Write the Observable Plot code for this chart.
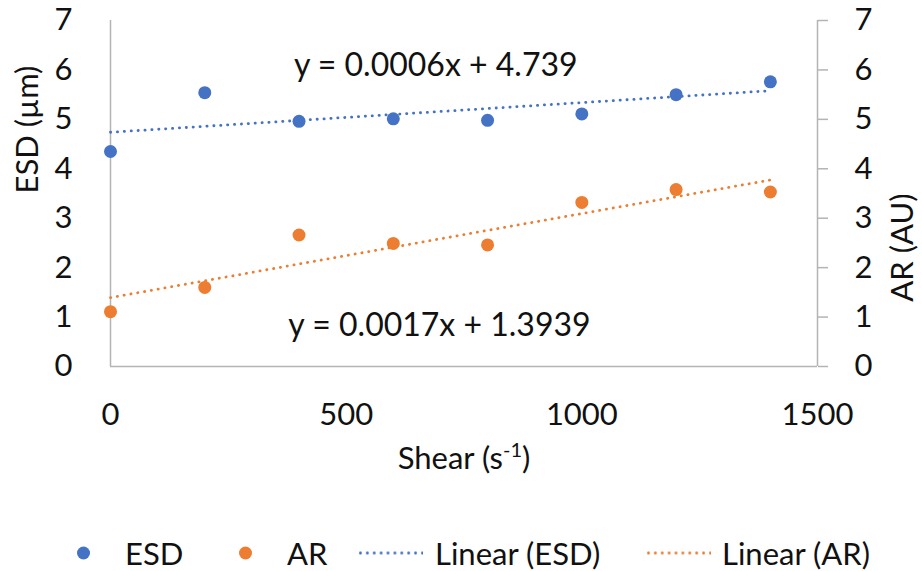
<!DOCTYPE html>
<html><head><meta charset="utf-8">
<script src="https://cdn.jsdelivr.net/npm/d3@7"></script>
<script src="https://cdn.jsdelivr.net/npm/@observablehq/plot@0.6"></script>
<style>
body{margin:0;background:#fff;font-family:Lato,sans-serif;}
#wrap{position:relative;width:922px;height:571px;overflow:hidden;background:#fff}
#chart svg{display:block}
.leg{position:absolute;top:553px;transform:translateY(-50%);font-size:31px;color:#111;line-height:1;white-space:nowrap}
.dot{width:13px;height:13px;border-radius:50%}
.dash{width:66px;height:3px}
</style></head><body><div id="wrap"><div id="chart"></div><div id="legend"></div></div>
<script>
const shear = [0, 200, 400, 600, 800, 1000, 1200, 1400];
const esd = [4.35, 5.54, 4.96, 5.01, 4.98, 5.11, 5.50, 5.76];
const ar = [1.11, 1.60, 2.66, 2.49, 2.46, 3.32, 3.58, 3.53];
const seriesNames = ["ESD", "AR"];
const trendNames = ["Linear (ESD)", "Linear (AR)"];
const trendSlopes = [0.0006, 0.0017];
const trendIntercepts = [4.739, 1.3939];
const equationLabels = ["y = 0.0006x + 4.739", "y = 0.0017x + 1.3939"];
const equationX = [690, 698];
const equationY = [6.09, 0.83];
const xTicks = [0, 500, 1000, 1500];
const yTicks = [0, 1, 2, 3, 4, 5, 6, 7];
const colors = ["#4472C4", "#ED7D31"];
const axisGray = "#b4b4b4";

const values = [esd, ar];
const points = [];
seriesNames.forEach((s, i) => shear.forEach((x, j) => points.push({series: s, x, y: values[i][j]})));
const ext = d3.extent(shear);
const trend = [];
seriesNames.forEach((s, i) => ext.forEach(x => trend.push({series: s, x, y: trendSlopes[i] * x + trendIntercepts[i]})));
const eqs = equationLabels.map((t, i) => ({text: t, x: equationX[i], y: equationY[i]}));

const plot = Plot.plot({
  width: 922, height: 525,
  marginLeft: 110, marginRight: 105, marginTop: 20, marginBottom: 159,
  style: {fontFamily: "Lato, sans-serif", fontSize: "31px", color: "#111", background: "#fff"},
  x: {domain: [0, 1500]},
  y: {domain: [0, 7]},
  color: {domain: seriesNames, range: colors},
  marks: [
    Plot.ruleY([0], {stroke: axisGray, strokeWidth: 1.5}),
    Plot.ruleX([0], {stroke: axisGray, strokeWidth: 1.5}),
    Plot.ruleX([1500], {stroke: axisGray, strokeWidth: 1.5}),
    Plot.axisX({ticks: xTicks, tickSize: 0, tickPadding: 36, label: null, tickFormat: d => String(d)}),
    Plot.axisY({anchor: "left", ticks: yTicks, tickSize: 0, tickPadding: 38, label: null, tickFormat: d => String(d)}),
    Plot.axisY({anchor: "right", ticks: yTicks, tickSize: 10, tickPadding: 27, label: null, stroke: axisGray, fill: "#111", strokeWidth: 1.5, tickFormat: d => String(d)}),
    Plot.line(trend, {x: "x", y: "y", z: "series", stroke: "series", strokeWidth: 2.8, strokeLinecap: "round", strokeDasharray: "0.2 6.7"}),
    Plot.dot(points, {x: "x", y: "y", fill: "series", r: 6.5}),
    Plot.text(eqs, {x: "x", y: "y", text: "text", fill: "#111", fontSize: 32}),
    Plot.text(["ESD (µm)"], {frameAnchor: "left", rotate: -90, dx: -82, fill: "#111"}),
    Plot.text(["AR (AU)"], {frameAnchor: "right", rotate: -90, dx: 86, fill: "#111"}),
    Plot.text(["Shear (s-1)"], {frameAnchor: "bottom", dy: 102, fill: "#111"})
  ]
});
document.getElementById("chart").appendChild(plot);
plot.querySelectorAll("text").forEach(t => {
  if (t.textContent === "Shear (s-1)") {
    t.innerHTML = 'Shear (s<tspan font-size="20" dy="-12">-1</tspan><tspan dy="12">)</tspan>';
  }
});

// legend
const leg = document.getElementById("legend");
const legendItems = [
  {type: "dot", color: colors[0], left: 77},
  {type: "text", text: seriesNames[0], left: 125},
  {type: "dot", color: colors[1], left: 239},
  {type: "text", text: seriesNames[1], left: 287},
  {type: "line", color: colors[0], left: 357},
  {type: "text", text: trendNames[0], left: 435},
  {type: "line", color: colors[1], left: 645},
  {type: "text", text: trendNames[1], left: 722}
];
legendItems.forEach(it => {
  const el = document.createElement("div");
  el.className = "leg";
  el.style.left = it.left + "px";
  if (it.type === "dot") {
    el.classList.add("dot");
    el.style.background = it.color;
  } else if (it.type === "text") {
    el.textContent = it.text;
  } else {
    el.classList.add("dash");
    el.style.background = `radial-gradient(circle, ${it.color} 1.2px, transparent 1.6px)`;
    el.style.backgroundSize = "6.9px 3px";
  }
  leg.appendChild(el);
});
</script></body></html>
